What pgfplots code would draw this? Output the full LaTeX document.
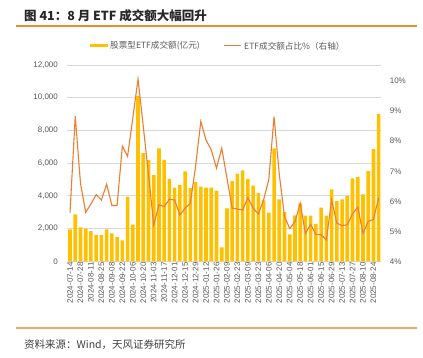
\documentclass[border=0pt]{standalone}
\usepackage{fontspec}
\setmainfont{Liberation Sans}
\newfontfamily\cjk{Noto Sans CJK SC}
\usepackage{pgfplots}
\usepackage{pgfplotstable}
\pgfplotsset{compat=1.18}
\definecolor{barc}{HTML}{FFC000}
\definecolor{linec}{HTML}{ED7D31}
\definecolor{gridc}{HTML}{D9D9D9}
\definecolor{tickc}{HTML}{595959}
\definecolor{topline}{HTML}{F08A30}
\definecolor{botline}{HTML}{F4A56A}
\pgfplotstableread{
i vol pct
0 1950 5.62
1 2870 8.84
2 2075 6.60
3 1995 5.63
4 1850 5.91
5 1610 6.22
6 1610 6.04
7 1950 6.57
8 1710 5.86
9 1485 5.86
10 1280 7.84
11 3950 7.49
12 2240 8.77
13 10115 10.07
14 6615 8.5
15 6190 6.9
16 5270 5.21
17 6900 5.88
18 6205 5.82
19 5045 6.07
20 4500 6.04
21 4660 5.54
22 5495 5.77
23 4480 5.93
24 4845 7.16
25 4560 8.66
26 4500 8.04
27 4500 7.71
28 4315 7.10
29 855 7.77
30 3235 6.77
31 4905 5.77
32 5350 5.74
33 5555 5.71
34 5045 6.12
35 4620 5.77
36 4170 5.58
37 3725 6.04
38 2970 6.73
39 6900 8.82
40 3785 6.9
41 3000 5.49
42 1650 5.09
43 2810 5.32
44 3540 5.93
45 2790 4.93
46 2790 5.23
47 2280 4.89
48 3275 4.89
49 2790 4.71
50 4395 6.04
51 3685 5.27
52 3785 5.19
53 3990 5.22
54 5065 5.58
55 5150 5.80
56 4090 4.93
57 5515 5.33
58 6860 5.40
59 9000 6.12
}\datatable
\begin{document}
\begin{tikzpicture}
\path (-67.4pt,-96.7pt) rectangle (355.6pt,261.3pt);
% title
\node[anchor=base west, inner sep=0, font=\cjk\bfseries\fontsize{12.5}{14}\selectfont, text=black!85] at (-43.4pt,240.3pt) {图 41：8 月 ETF 成交额大幅回升};
\draw[topline, line width=1.2pt] (-51.4pt,235.3pt) -- (349.6pt,235.3pt);
% legend
\fill[barc] (22.6pt,213.8pt) rectangle (40.6pt,217.3pt);
\node[anchor=west, inner sep=0, font=\cjk\fontsize{8.6}{9}\selectfont, text=tickc] at (42.6pt,215.3pt) {股票型ETF成交额(亿元)};
\draw[linec, line width=1pt] (156.6pt,215.3pt) -- (173.6pt,215.3pt);
\node[anchor=west, inner sep=0, font=\cjk\fontsize{8.6}{9}\selectfont, text=tickc] at (176.6pt,215.3pt) {ETF成交额占比\%（右轴）};
% bottom
\draw[botline, line width=1.2pt] (-51.4pt,-66.7pt) -- (349.6pt,-66.7pt);
\node[anchor=west, inner sep=0, font=\cjk\fontsize{10.5}{11}\selectfont, text=black!75] at (-43.4pt,-83.7pt) {资料来源：Wind，天风证券研究所};

\begin{axis}[
  scale only axis, width=313.9pt, height=196.3pt,
  xmin=-0.5, xmax=59.5, ymin=0, ymax=12000,
  ytick={0,2000,...,12000},
  scaled y ticks=false,
  /pgf/number format/1000 sep={,},
  /pgf/number format/assume math mode=true,
  ymajorgrids, grid style={gridc, line width=0.8pt},
  axis line style={draw=none},
  major tick length=0pt,
  yticklabel style={font=\fontsize{8}{9}\selectfont, text=tickc, xshift=-6pt},
  xtick={0,2,...,58},
  xticklabels={2024-07-14,2024-07-28,2024-08-11,2024-08-25,2024-09-08,2024-09-22,2024-10-06,2024-10-20,2024-11-03,2024-11-17,2024-12-01,2024-12-15,2024-12-29,2025-01-12,2025-01-26,2025-02-09,2025-02-23,2025-03-09,2025-03-23,2025-04-06,2025-04-20,2025-05-04,2025-05-18,2025-06-01,2025-06-15,2025-06-29,2025-07-13,2025-07-27,2025-08-10,2025-08-24},
  xticklabel style={rotate=90, anchor=east, font=\fontsize{8}{8}\selectfont, text=tickc, inner sep=1pt},
]
\addplot[ybar, bar width=3.6pt, fill=barc, draw=none] table[x=i, y=vol] {\datatable};
\end{axis}
\begin{axis}[
  scale only axis, width=313.9pt, height=196.3pt,
  xmin=-0.5, xmax=59.5, ymin=4, ymax=10.54,
  axis x line=none,
  axis y line*=right,
  axis line style={draw=none},
  major tick length=0pt,
  ytick={4,5,6,7,8,9,10},
  yticklabels={4\%,5\%,6\%,7\%,8\%,9\%,10\%},
  yticklabel style={font=\fontsize{8}{9}\selectfont, text=tickc, xshift=5pt, anchor=west},
]
\addplot[linec, line width=1.1pt, mark=none] table[x=i, y=pct] {\datatable};
\end{axis}
\end{tikzpicture}
\end{document}
